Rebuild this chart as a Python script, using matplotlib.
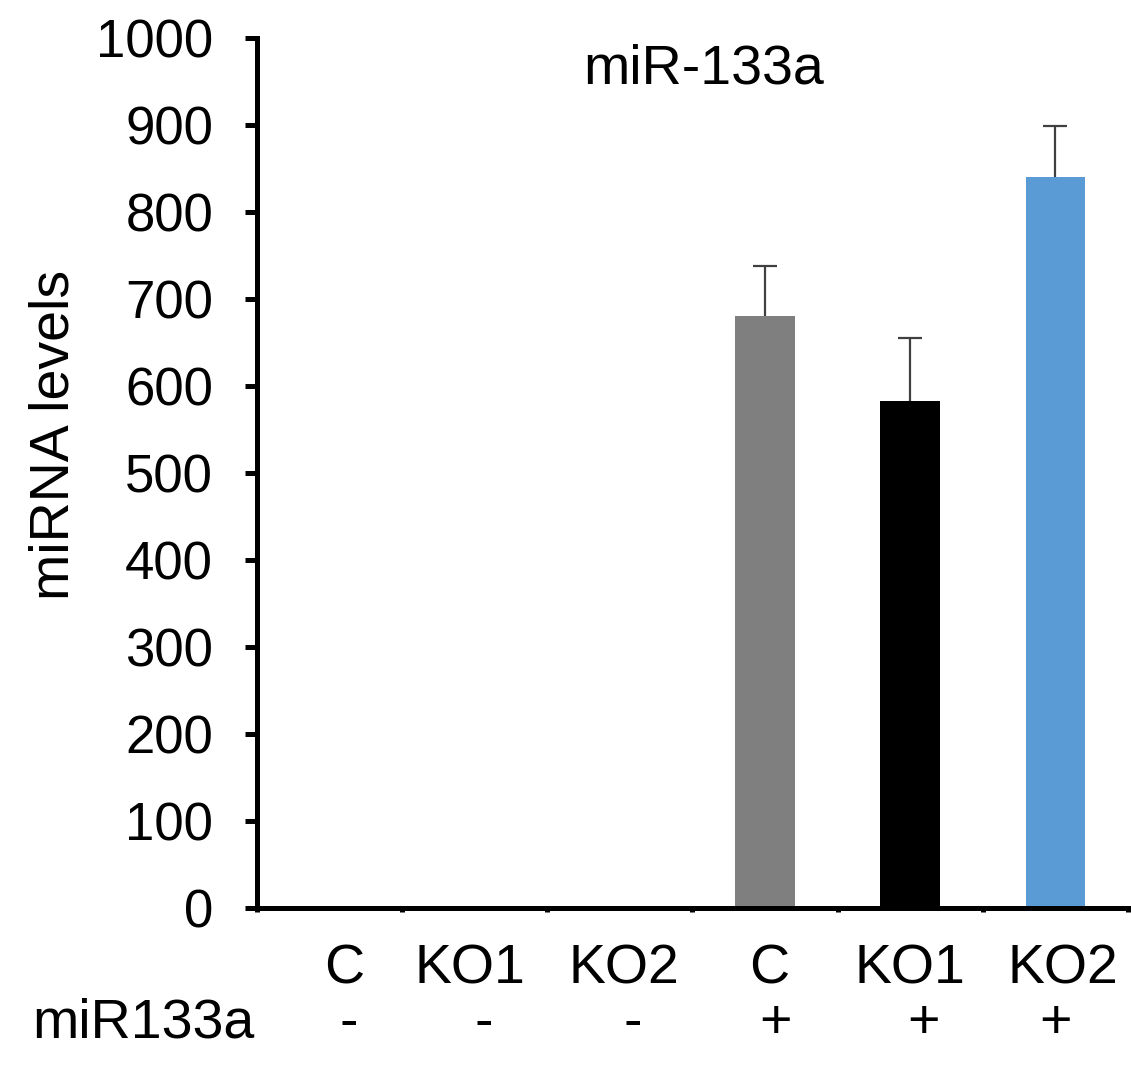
import matplotlib
matplotlib.use('Agg')
import matplotlib.pyplot as plt
import numpy as np

plt.rcParams['font.family'] = ['Liberation Sans', 'DejaVu Sans']

# Données
groupes = ['C', 'KO1', 'KO2', 'C', 'KO1', 'KO2']
mir133a = ['-', '-', '-', '+', '+', '+']
niveaux = [0, 0, 0, 680, 583, 840]
erreurs = [0, 0, 0, 58, 72, 59]
couleurs = ['#7f7f7f', '#7f7f7f', '#7f7f7f', '#7f7f7f', '#000000', '#5b9bd5']

# petits décalages des étiquettes (mise en page)
decal_noms = [0.1, -0.03, 0.03, 0.03, 0.0, 0.05]
decal_signes = [0.13, 0.06, 0.09, 0.07, 0.09, 0.0]

fig = plt.figure(figsize=(11.31, 10.65), dpi=100)
ax = fig.add_axes([0.2272, 0.1474, 0.7701, 0.8169])

x = np.arange(len(groupes))
ax.bar(x, niveaux, width=0.41, color=couleurs, zorder=2)
x_err = [i for i in x if erreurs[i] > 0]
err = ax.errorbar(x_err, [niveaux[i] for i in x_err],
                  yerr=[[0] * len(x_err), [erreurs[i] for i in x_err]],
                  fmt='none', ecolor='#404040', elinewidth=1.6, capsize=8.6,
                  capthick=1.6, zorder=1)
# pas de trait en bas (caché par la barre dans l'original)
err[1][0].set_visible(False)

ax.set_xlim(-0.5, 5.5)
ax.set_ylim(0, 1000)
ax.set_yticks(np.arange(0, 1001, 100))
ax.set_xticks(np.arange(-0.5, 5.6, 1))
ax.set_xticklabels([])

for s in ['top', 'right']:
    ax.spines[s].set_visible(False)
for s in ['left', 'bottom']:
    ax.spines[s].set_linewidth(3.6)
ax.tick_params(axis='y', direction='out', length=8.6, width=3.6, labelsize=38, pad=23)
ax.tick_params(axis='x', direction='out', length=3, width=3.6)

ax.text(-0.232, 0.544, 'miRNA levels', transform=ax.transAxes, rotation=90,
        ha='center', va='center', fontsize=40)
ax.text(2.58, 0.948, 'miR-133a', transform=ax.get_xaxis_transform(),
        ha='center', va='baseline', fontsize=40)

tr = ax.get_xaxis_transform()
for i in range(len(groupes)):
    ax.text(x[i] + decal_noms[i], -0.0862, groupes[i], transform=tr,
            ha='center', va='baseline', fontsize=40, clip_on=False)
    ax.text(x[i] + decal_signes[i], -0.1494, mir133a[i], transform=tr,
            ha='center', va='baseline', fontsize=40, clip_on=False)
ax.text(-0.514, -0.1494, 'miR133a', transform=tr, ha='right', va='baseline',
        fontsize=40, clip_on=False)

fig.savefig('out.png', dpi=100)
